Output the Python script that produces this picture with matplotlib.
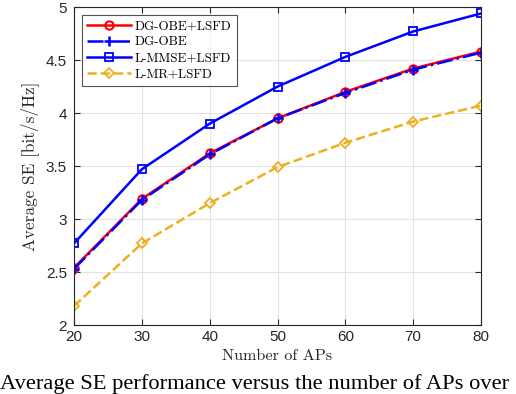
import numpy as np
import matplotlib
matplotlib.use('Agg')
import matplotlib.pyplot as plt

# data
num_aps = [20, 30, 40, 50, 60, 70, 80]
dg_obe_lsfd = [2.54, 3.19, 3.62, 3.95, 4.20, 4.42, 4.58]
dg_obe = [2.53, 3.18, 3.61, 3.95, 4.19, 4.41, 4.57]
lmmse_lsfd = [2.77, 3.47, 3.90, 4.25, 4.53, 4.77, 4.94]
lmr_lsfd = [2.18, 2.77, 3.15, 3.49, 3.72, 3.92, 4.07]

fig = plt.figure(figsize=(5.16, 3.94), dpi=100)
ax = fig.add_axes([0.1434, 0.175, 0.7888, 0.807])

ax.plot(num_aps, dg_obe_lsfd, '-o', color='red', lw=1.8, ms=6, mfc='none', mew=1.5, label='DG-OBE+LSFD')
ax.plot(num_aps, dg_obe, '-.+', color='blue', lw=1.8, ms=7, mew=1.8, label='DG-OBE')
ax.plot(num_aps, lmmse_lsfd, '-s', color='blue', lw=1.8, ms=5.5, mfc='none', mew=1.3, label='L-MMSE+LSFD')
ax.plot(num_aps, lmr_lsfd, '--D', color='#EDB120', lw=1.8, ms=5.5, mfc='none', mew=1.3, label='L-MR+LSFD')

ax.set_xlim(20, 80)
ax.set_ylim(2, 5)
ax.set_xticks(np.arange(20, 81, 10))
ax.set_yticks(np.arange(2, 5.01, 0.5))
ax.set_yticklabels(['2', '2.5', '3', '3.5', '4', '4.5', '5'])
ax.grid(True, color='#e3e3e3', lw=0.8)
ax.set_axisbelow(True)
ax.tick_params(direction='in', top=True, right=True, labelsize=11, colors='#262626', length=4)
ax.tick_params(axis='y', pad=5)
for lab in ax.get_xticklabels() + ax.get_yticklabels():
    lab.set_family('Liberation Sans')
for s in ax.spines.values():
    s.set_color('#262626')
    s.set_linewidth(0.8)

ax.set_xlabel('Number of APs', family='cmr10', fontsize=11.7, color='#262626', labelpad=4)
ax.set_ylabel('Average SE [bit/s/Hz]', family='cmr10', fontsize=12.4, color='#262626', labelpad=5)

leg = ax.legend(loc='upper left', prop={'family': 'cmr10', 'size': 9.4}, fancybox=False,
                edgecolor='#262626', handlelength=3.4, borderpad=0.4, labelspacing=0.3,
                handletextpad=0.25, borderaxespad=0.6)
leg.get_frame().set_linewidth(0.8)

fig.text(0.0, 0.0, 'Average SE performance versus the number of APs over',
         family='Liberation Serif', fontsize=16.2, ha='left', va='bottom')

fig.savefig('out.png', dpi=100)
